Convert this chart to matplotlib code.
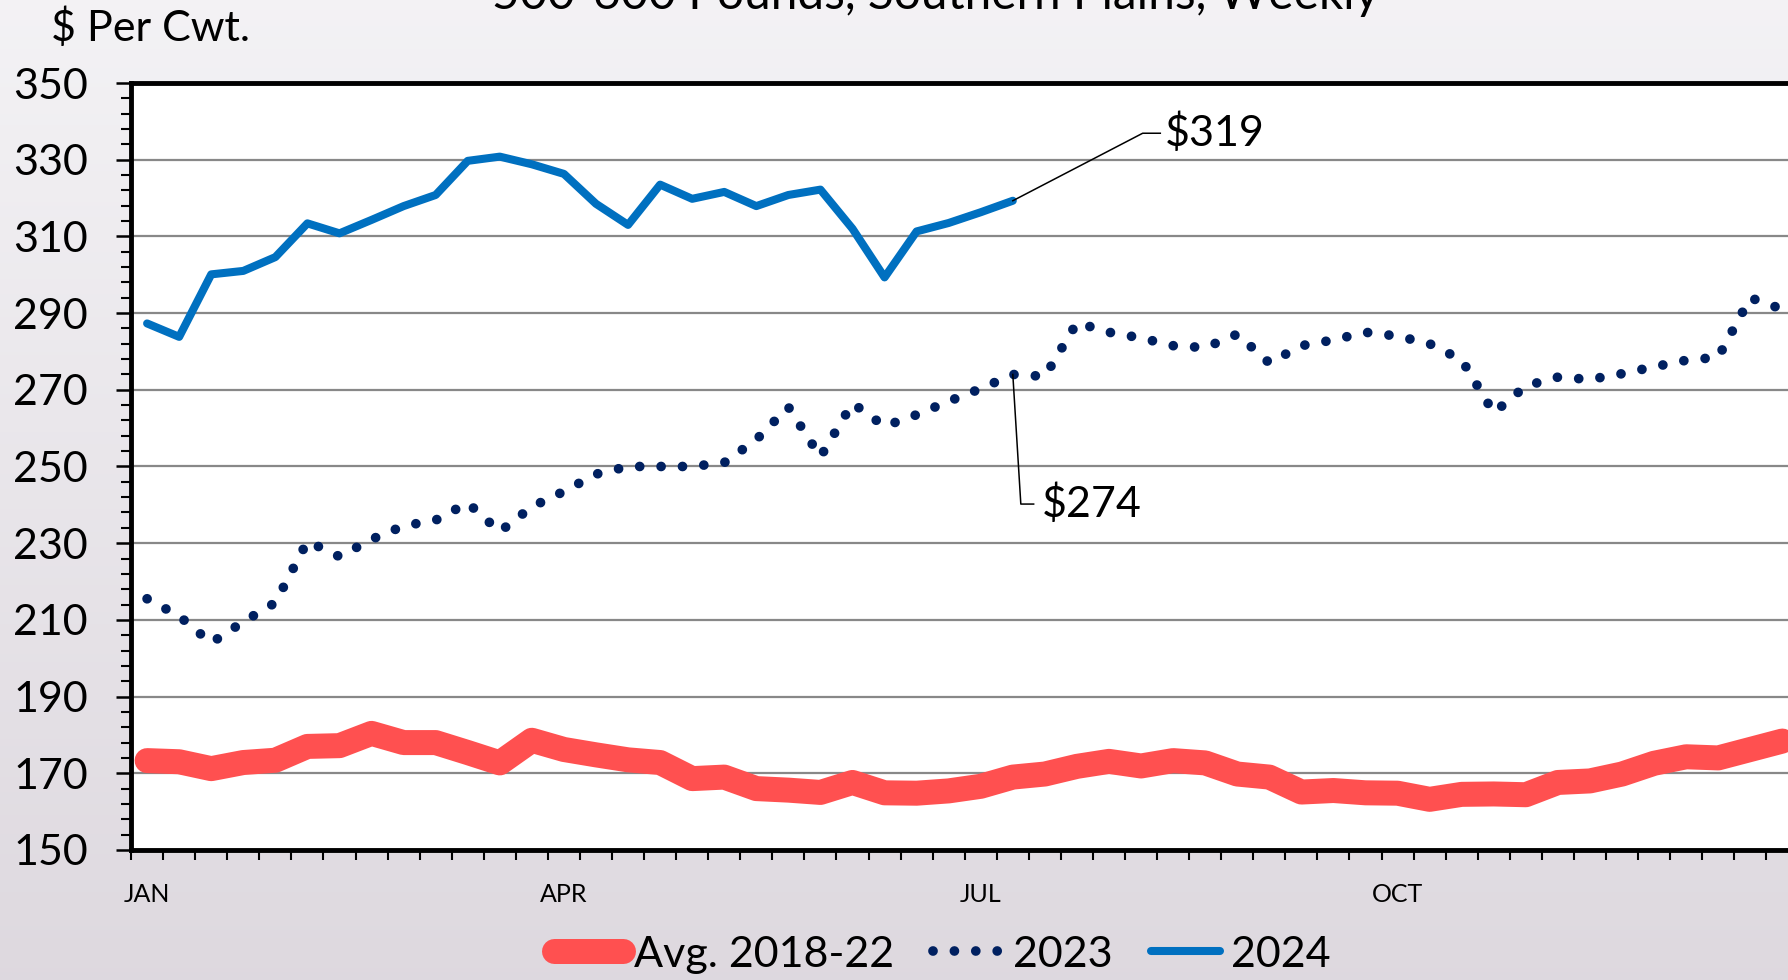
import numpy as np
import matplotlib
matplotlib.use("Agg")
import matplotlib.pyplot as plt
from matplotlib.ticker import FixedLocator

# %% data (weekly, $ per cwt)

avg_1822 = [173.3, 173.0, 171.2, 172.8, 173.4, 177.0, 177.2, 180.4, 178.0, 178.0,
            175.4, 172.7, 178.6, 176.2, 174.8, 173.5, 172.8, 168.6, 169.0, 166.0,
            165.6, 165.0, 167.6, 164.9, 164.8, 165.4, 166.6, 169.0, 169.8, 171.8,
            173.1, 171.9, 173.3, 172.7, 169.8, 169.0, 165.1, 165.5, 164.9, 164.8,
            163.2, 164.5, 164.6, 164.4, 167.6, 168.0, 169.8, 172.6, 174.3, 174.0,
            176.2, 178.4]
y2023 = [215.5, 211.0, 204.0, 209.5, 214.5, 230.5, 226.5, 231.0, 234.5, 236.0,
         240.5, 233.0, 239.5, 243.5, 248.0, 250.0, 250.0, 250.0, 251.0, 257.0,
         265.5, 252.5, 266.5, 260.5, 263.5, 267.0, 270.3, 274.0, 273.5, 287.5,
         285.0, 283.5, 281.5, 281.0, 284.5, 277.0, 281.5, 283.0, 285.0, 284.0,
         282.0, 277.8, 264.0, 271.0, 273.3, 272.7, 274.2, 276.0, 277.7, 278.5,
         294.0, 291.0]
y2024 = [287.3, 283.8, 300.1, 301.0, 304.6, 313.4, 310.8, 314.3, 317.9, 320.8,
         329.7, 330.8, 328.8, 326.3, 318.5, 313.0, 323.5, 319.8, 321.6, 317.9,
         320.8, 322.2, 312.0, 299.3, 311.3, 313.5, 316.3, 319.3]
month_labels = ["JAN", "APR", "JUL", "OCT"]
month_pos = [0, 13, 26, 39]
y_ticks = list(range(150, 351, 20))
n_weeks = 52

# %% figure

plt.rcParams['font.family'] = ['Lato', 'DejaVu Sans']
fig = plt.figure(figsize=(17.88, 9.8), dpi=100)

# soft grey gradient background
bg = fig.add_axes([0, 0, 1, 1], zorder=-10)
grad = np.linspace(0, 1, 256).reshape(-1, 1)
top_c = np.array([0.955, 0.950, 0.960])
bot_c = np.array([0.870, 0.850, 0.875])
img = top_c + (bot_c - top_c) * grad[:, :, None]
bg.imshow(img, aspect="auto", extent=(0, 1, 0, 1))
bg.axis("off")

ax = fig.add_axes([0.0733, 0.1327, 0.9325, 0.7826])
ax.set_facecolor("white")

x = np.arange(n_weeks)
ax.plot(x[:len(avg_1822)], avg_1822, color="#FF5050", lw=18,
        solid_capstyle="round", solid_joinstyle="round", label="Avg. 2018-22", zorder=3)
ax.plot(x[:len(y2023)], y2023, color="#002060", lw=7, linestyle=(0, (0.001, 2.2)),
        dash_capstyle="round", label="2023", zorder=4)
ax.plot(x[:len(y2024)], y2024, color="#0070C0", lw=5.8,
        solid_capstyle="round", solid_joinstyle="round", label="2024", zorder=5)

# callouts
i24 = len(y2024) - 1
ax.plot([i24, 31.05, 31.6], [y2024[i24], 336.9, 336.9], color="black", lw=1.1, zorder=6)
ax.text(31.75, 336.9, "$%d" % round(y2024[i24]), fontsize=31, va="center", ha="left")
ax.plot([i24, 27.25, 27.65], [y2023[i24], 240.2, 240.2], color="black", lw=1.1, zorder=6)
ax.text(27.9, 240.2, "$%d" % round(y2023[i24]), fontsize=31, va="center", ha="left")

ax.set_xlim(-0.5, n_weeks - 0.5)
ax.set_ylim(150, 350)
ax.yaxis.set_major_locator(FixedLocator(y_ticks))
ax.yaxis.set_minor_locator(FixedLocator(np.arange(150, 351, 4)))
ax.grid(axis="y", which="major", color="#888888", lw=1.6, zorder=1)
ax.set_axisbelow(True)

ax.xaxis.set_major_locator(FixedLocator(month_pos))
ax.set_xticklabels(month_labels)
ax.xaxis.set_minor_locator(FixedLocator(np.arange(-0.5, n_weeks, 1.0)))
ax.tick_params(axis="x", which="major", length=0, pad=24, labelsize=18)
ax.tick_params(axis="x", which="minor", length=7, width=1.5, direction="out")
ax.tick_params(axis="y", which="major", length=11, width=1.8, pad=20, labelsize=31)
ax.tick_params(axis="y", which="minor", length=7, width=1.5)

for s in ax.spines.values():
    s.set_linewidth(3.5)
    s.set_color("black")

fig.text(0.0285, 0.972, "$ Per Cwt.", fontsize=31, va="center", ha="left")
fig.text(0.523, 0.991, "500-600 Pounds, Southern Plains, Weekly", fontsize=34.5,
         va="baseline", ha="center")

fig.legend(loc="center", bbox_to_anchor=(0.527, 0.026), ncol=3, frameon=False,
           fontsize=31, handlelength=1.6, handletextpad=0.25, columnspacing=0.9)

fig.savefig("out.png", dpi=100)
